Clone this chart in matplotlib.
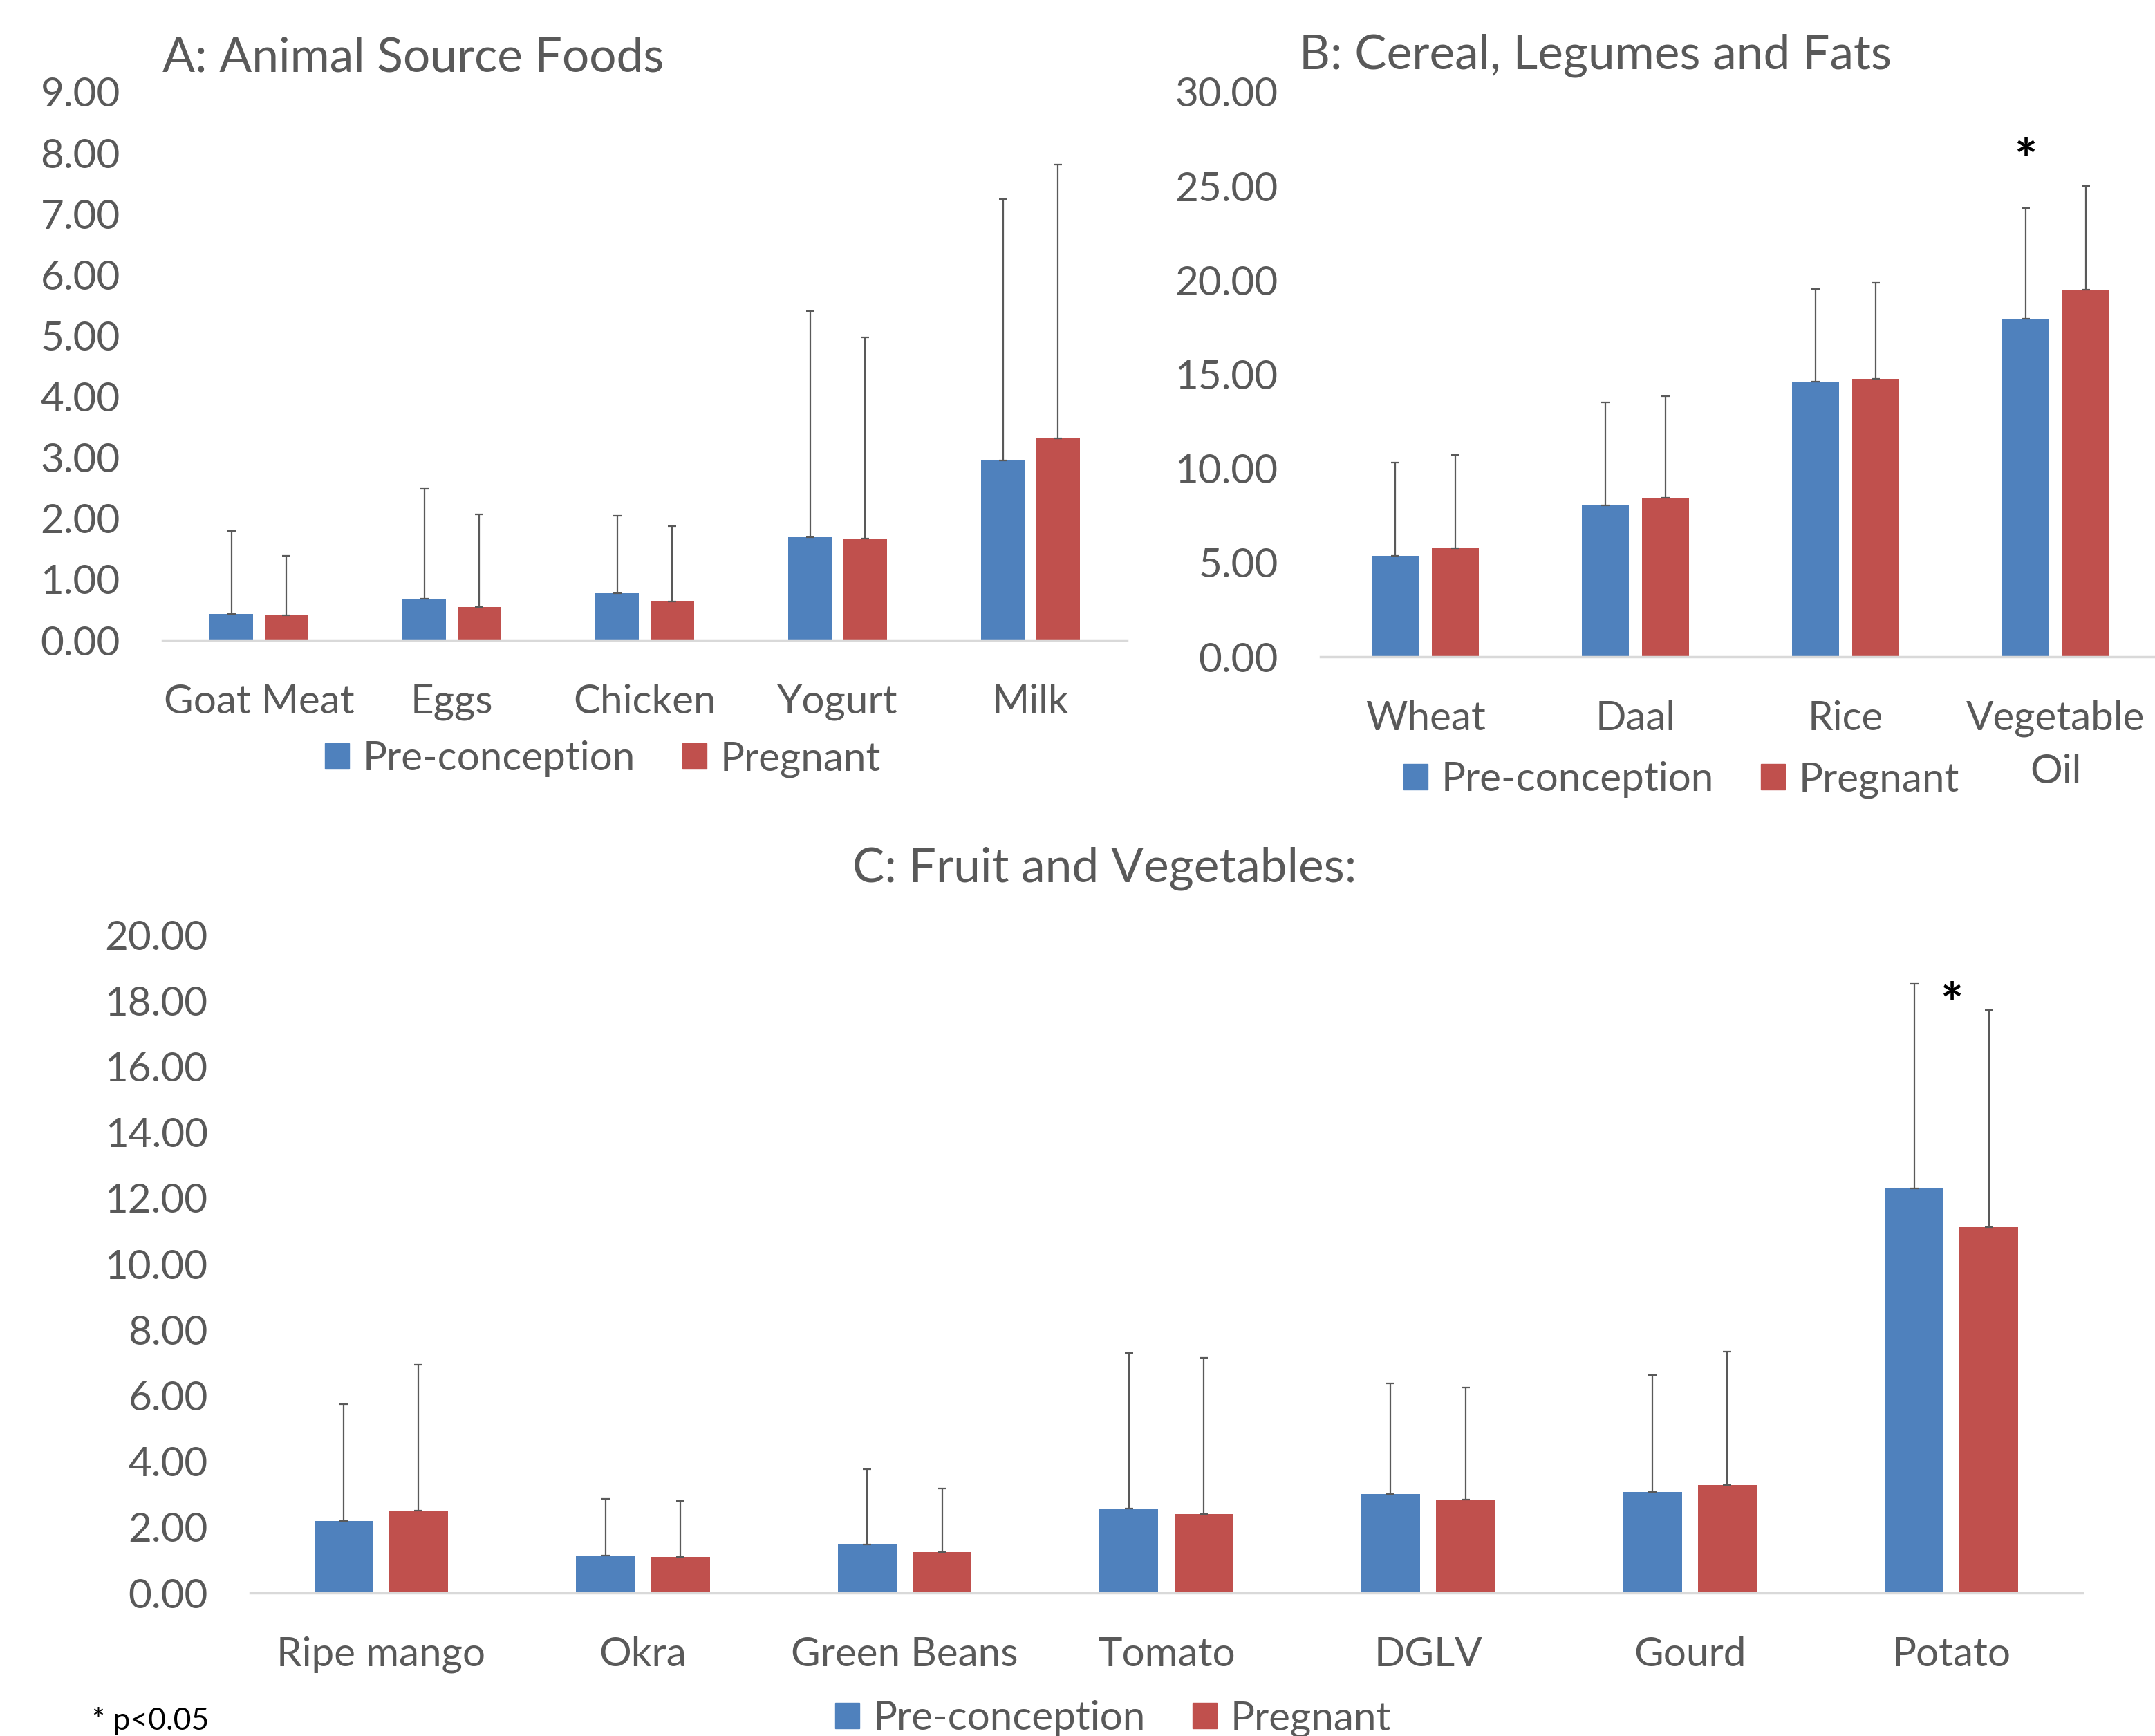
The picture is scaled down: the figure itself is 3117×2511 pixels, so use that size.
import numpy as np
import matplotlib
matplotlib.use("Agg")
import matplotlib.pyplot as plt
from matplotlib.patches import Patch

plt.rcParams['font.family'] = ['Lato', 'DejaVu Sans']

# Panel A: Animal source foods
a_cats = ["Goat Meat", "Eggs", "Chicken", "Yogurt", "Milk"]
a_pre = [0.43, 0.68, 0.77, 1.69, 2.95]
a_preg = [0.41, 0.54, 0.63, 1.67, 3.31]
a_pre_top = [1.79, 2.48, 2.04, 5.40, 7.24]
a_preg_top = [1.39, 2.07, 1.87, 4.97, 7.81]

# Panel B: Cereal, legumes and fats
b_cats = ["Wheat", "Daal", "Rice", "Vegetable\nOil"]
b_pre = [5.35, 8.05, 14.63, 17.97]
b_preg = [5.78, 8.44, 14.75, 19.51]
b_pre_top = [10.32, 13.51, 19.54, 23.83]
b_preg_top = [10.74, 13.85, 19.88, 25.00]

# Panel C: Fruit and vegetables
c_cats = ["Ripe mango", "Okra", "Green Beans", "Tomato", "DGLV", "Gourd", "Potato"]
c_pre = [2.18, 1.14, 1.48, 2.57, 3.01, 3.06, 12.28]
c_preg = [2.49, 1.09, 1.25, 2.39, 2.83, 3.28, 11.12]
c_pre_top = [5.74, 2.85, 3.76, 7.30, 6.37, 6.62, 18.50]
c_preg_top = [6.94, 2.80, 3.17, 7.14, 6.23, 7.33, 17.71]

BLUE = "#4F81BD"
RED = "#C0504D"
TXT = "#595959"
FS = 42
TITLE_FS = 50


def draw_panel(ax, cats, pre, preg, pre_top, preg_top, ymax, ystep):
    x = np.arange(len(cats))
    w = 0.225
    off = 0.143
    ax.bar(x - off, pre, w, color=BLUE, zorder=2)
    ax.bar(x + off, preg, w, color=RED, zorder=2)
    for xs, v, t in ((x - off, pre, pre_top), (x + off, preg, preg_top)):
        err = np.array(t) - np.array(v)
        ax.errorbar(xs, v, yerr=[np.zeros_like(err), err], fmt='none',
                    ecolor=TXT, elinewidth=1.6, capsize=4, capthick=1.6, zorder=3)
    ax.set_xlim(-0.5, len(cats) - 0.5)
    ax.set_ylim(0, ymax)
    ax.set_yticks(np.arange(0, ymax + 0.001, ystep))
    ax.yaxis.set_major_formatter(matplotlib.ticker.FormatStrFormatter('%.2f'))
    ax.set_xticks(x)
    ax.set_xticklabels(cats, linespacing=1.55)
    ax.tick_params(axis='both', length=0, labelsize=FS, colors=TXT)
    ax.tick_params(axis='x', pad=45)
    ax.tick_params(axis='y', pad=44)
    for s in ('top', 'right', 'left'):
        ax.spines[s].set_visible(False)
    ax.spines['bottom'].set_color("#D9D9D9")
    ax.spines['bottom'].set_linewidth(2.5)
    ax.spines['bottom'].set_zorder(4)


def add_legend(fig, cx, cy):
    handles = [Patch(color=BLUE, label="Pre-conception"),
               Patch(color=RED, label="Pregnant")]
    fig.legend(handles=handles, loc='center', bbox_to_anchor=(cx, cy), ncol=2,
               frameon=False, fontsize=FS, labelcolor=TXT, handlelength=0.6,
               handleheight=0.6, handletextpad=0.35, columnspacing=1.15)


W, H = 3117, 2511
fig = plt.figure(figsize=(W / 100, H / 100), dpi=100)

axA = fig.add_axes([235 / W, 1 - 926 / H, (1630 - 235) / W, (926 - 133) / H])
draw_panel(axA, a_cats, a_pre, a_preg, a_pre_top, a_preg_top, 9, 1)
fig.text(235 / W, 1 - 84 / H, "A: Animal Source Foods", fontsize=TITLE_FS, color=TXT,
         ha='left', va='center')
add_legend(fig, 872 / W, 1 - 1098 / H)

axB = fig.add_axes([1910 / W, 1 - 950 / H, (3125 - 1910) / W, (950 - 133) / H])
draw_panel(axB, b_cats, b_pre, b_preg, b_pre_top, b_preg_top, 30, 5)
fig.text(1879 / W, 1 - 80 / H, "B: Cereal, Legumes and Fats", fontsize=TITLE_FS, color=TXT,
         ha='left', va='center')
axB.text(3 - 0.143, 26.2, "*", fontsize=56, fontweight='bold', ha='center', va='center')
add_legend(fig, 2432 / W, 1 - 1128 / H)

axC = fig.add_axes([362 / W, 1 - 2304 / H, (3012 - 362) / W, (2304 - 1352) / H])
draw_panel(axC, c_cats, c_pre, c_preg, c_pre_top, c_preg_top, 20, 2)
fig.text(1598 / W, 1 - 1256 / H, "C: Fruit and Vegetables:", fontsize=TITLE_FS, color=TXT,
         ha='center', va='center')
axC.text(6, 17.8, "*", fontsize=56, fontweight='bold', ha='center', va='center')
add_legend(fig, 1610 / W, 1 - 2486 / H)

fig.text(133 / W, 1 - 2490 / H, "* p<0.05", fontsize=32, color='black',
         ha='left', va='center')

fig.savefig("out.png", dpi=100)
